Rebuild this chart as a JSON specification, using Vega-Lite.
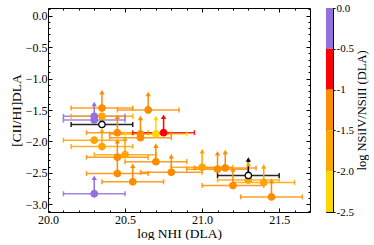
{
  "$schema": "https://vega.github.io/schema/vega-lite/v6.json",
  "padding": {"left": 8, "top": 1, "right": 0, "bottom": 0},
  "spacing": 14,
  "config": {
    "font": "Liberation Serif",
    "view": {"stroke": "black", "strokeWidth": 1},
    "axis": {
      "labelFont": "Liberation Serif", "titleFont": "Liberation Serif",
      "labelFontSize": 12, "titleFontSize": 13.5, "titleFontWeight": "normal",
      "labelColor": "black", "titleColor": "black", "domainColor": "black", "tickColor": "black",
      "grid": false, "labelFlush": false
    }
  },
  "datasets": {
    "pts": [
      {"x": 20.30, "xlo": 20.10, "xhi": 20.50, "y": -2.83, "lim": true, "r": -0.2, "stack": false},
      {"x": 20.30, "xlo": 20.10, "xhi": 20.50, "y": -1.66, "lim": true, "r": -0.2, "stack": false},
      {"x": 20.30, "xlo": 20.10, "xhi": 20.50, "y": -1.60, "lim": false, "r": -0.2, "stack": false},
      {"x": 20.35, "xlo": 20.15, "xhi": 20.55, "y": -1.47, "lim": true, "r": -1.2, "stack": false},
      {"x": 20.35, "xlo": 20.15, "xhi": 20.55, "y": -1.60, "lim": false, "r": -1.7, "stack": false},
      {"x": 20.65, "xlo": 20.45, "xhi": 20.85, "y": -1.50, "lim": true, "r": -1.2, "stack": false},
      {"x": 20.45, "xlo": 20.25, "xhi": 20.65, "y": -1.86, "lim": true, "r": -1.2, "stack": false},
      {"x": 20.60, "xlo": 20.40, "xhi": 20.80, "y": -1.88, "lim": true, "r": -1.2, "stack": false},
      {"x": 20.60, "xlo": 20.40, "xhi": 20.80, "y": -1.94, "lim": false, "r": -1.2, "stack": false},
      {"x": 20.30, "xlo": 20.10, "xhi": 20.50, "y": -1.98, "lim": false, "r": -1.7, "stack": false},
      {"x": 20.35, "xlo": 20.15, "xhi": 20.55, "y": -2.08, "lim": true, "r": -1.7, "stack": false},
      {"x": 20.45, "xlo": 20.25, "xhi": 20.65, "y": -2.25, "lim": true, "r": -1.2, "stack": false},
      {"x": 20.50, "xlo": 20.30, "xhi": 20.70, "y": -2.21, "lim": true, "r": -1.7, "stack": false},
      {"x": 20.70, "xlo": 20.50, "xhi": 20.90, "y": -2.32, "lim": true, "r": -1.2, "stack": false},
      {"x": 20.45, "xlo": 20.25, "xhi": 20.65, "y": -2.51, "lim": true, "r": -1.2, "stack": false},
      {"x": 20.55, "xlo": 20.35, "xhi": 20.75, "y": -2.64, "lim": true, "r": -1.2, "stack": false},
      {"x": 20.80, "xlo": 20.60, "xhi": 21.00, "y": -2.49, "lim": true, "r": -1.2, "stack": false},
      {"x": 21.00, "xlo": 20.80, "xhi": 21.20, "y": -2.41, "lim": true, "r": -1.7, "stack": false},
      {"x": 21.10, "xlo": 20.90, "xhi": 21.30, "y": -2.44, "lim": true, "r": -1.2, "stack": false},
      {"x": 21.15, "xlo": 20.95, "xhi": 21.35, "y": -2.42, "lim": true, "r": -1.2, "stack": false},
      {"x": 21.20, "xlo": 21.00, "xhi": 21.40, "y": -2.70, "lim": true, "r": -1.2, "stack": false},
      {"x": 21.30, "xlo": 21.10, "xhi": 21.50, "y": -2.61, "lim": true, "r": -1.7, "stack": false},
      {"x": 21.40, "xlo": 21.20, "xhi": 21.60, "y": -2.65, "lim": true, "r": -1.7, "stack": false},
      {"x": 21.45, "xlo": 21.25, "xhi": 21.65, "y": -2.88, "lim": true, "r": -1.2, "stack": false},
      {"x": 20.70, "xlo": 20.50, "xhi": 20.90, "y": -1.88, "lim": true, "r": -2.2, "stack": false},
      {"x": 20.75, "xlo": 20.55, "xhi": 20.95, "y": -1.86, "lim": true, "r": -0.7, "stack": false},
      {"x": 20.35, "xlo": 20.15, "xhi": 20.55, "y": -1.73, "lim": false, "r": -1.0, "stack": true},
      {"x": 21.30, "xlo": 21.10, "xhi": 21.50, "y": -2.54, "lim": true, "r": -1.0, "stack": true}
    ],
    "bins": [
      {"lo": -0.5, "hi": 0.0},
      {"lo": -1.0, "hi": -0.5},
      {"lo": -1.5, "hi": -1.0},
      {"lo": -2.0, "hi": -1.5},
      {"lo": -2.5, "hi": -2.0}
    ]
  },
  "hconcat": [
    {
      "width": 262,
      "height": 204,
      "data": {"name": "pts"},
      "resolve": {"axis": {"x": "independent", "y": "independent"}},
      "layer": [
        {
          "mark": {"type": "rule", "strokeWidth": 1.5, "opacity": 0.85},
          "encoding": {
            "x": {"field": "xlo", "type": "quantitative", "scale": {"domain": [20.0, 21.7], "nice": false, "zero": false},
                  "axis": {"orient": "bottom", "values": [20.0, 20.5, 21.0, 21.5], "format": ".1f", "tickSize": -4, "labelPadding": 6, "domain": false, "title": "log NHI (DLA)", "titlePadding": 1}},
            "x2": {"field": "xhi"},
            "y": {"field": "y", "type": "quantitative", "scale": {"domain": [-3.12, 0.12], "nice": false, "zero": false},
                  "axis": {"orient": "left", "values": [0, -0.5, -1, -1.5, -2, -2.5, -3], "format": ".1f", "tickSize": -4, "labelPadding": 5, "domain": false, "title": "[CII/HI]DLA", "titlePadding": 2}},
            "color": {"condition": {"test": "datum.stack", "value": "black"}, "field": "r", "type": "quantitative",
                      "scale": {"type": "threshold", "domain": [-2, -1.5, -1, -0.5], "range": ["#FFD700", "#FFA500", "#FF8C00", "#FF0000", "#9370DB"]}, "legend": null}
          }
        },
        {
          "transform": [{"fold": ["xlo", "xhi"], "as": ["k", "xv"]}],
          "mark": {"type": "rule", "strokeWidth": 1.5, "opacity": 0.85, "yOffset": -2.5, "y2Offset": 2.5},
          "encoding": {
            "x": {"field": "xv", "type": "quantitative", "scale": {"domain": [20.0, 21.7], "nice": false, "zero": false},
                  "axis": {"orient": "bottom", "values": [20.1, 20.2, 20.3, 20.4, 20.6, 20.7, 20.8, 20.9, 21.1, 21.2, 21.3, 21.4, 21.6], "labels": false, "tickSize": -2, "domain": false, "title": null}},
            "y": {"field": "y", "type": "quantitative",
                  "axis": {"orient": "left", "values": [0.1, -0.1, -0.2, -0.3, -0.4, -0.6, -0.7, -0.8, -0.9, -1.1, -1.2, -1.3, -1.4, -1.6, -1.7, -1.8, -1.9, -2.1, -2.2, -2.3, -2.4, -2.6, -2.7, -2.8, -2.9, -3.1], "labels": false, "tickSize": -2, "domain": false, "title": null}},
            "y2": {"field": "y"},
            "color": {"condition": {"test": "datum.stack", "value": "black"}, "field": "r", "type": "quantitative",
                      "scale": {"type": "threshold", "domain": [-2, -1.5, -1, -0.5], "range": ["#FFD700", "#FFA500", "#FF8C00", "#FF0000", "#9370DB"]}, "legend": null}
          }
        },
        {
          "transform": [{"filter": "datum.lim"}],
          "mark": {"type": "rule", "strokeWidth": 1.5, "y2Offset": -15},
          "encoding": {
            "x": {"field": "x", "type": "quantitative",
                  "axis": {"orient": "top", "values": [20.0, 20.5, 21.0, 21.5], "labels": false, "tickSize": -4, "domain": false, "title": null}},
            "y": {"field": "y", "type": "quantitative",
                  "axis": {"orient": "right", "values": [0, -0.5, -1, -1.5, -2, -2.5, -3], "labels": false, "tickSize": -4, "domain": false, "title": null}},
            "y2": {"field": "y"},
            "color": {"condition": {"test": "datum.stack", "value": "black"}, "field": "r", "type": "quantitative",
                      "scale": {"type": "threshold", "domain": [-2, -1.5, -1, -0.5], "range": ["#FFD700", "#FFA500", "#FF8C00", "#FF0000", "#9370DB"]}, "legend": null}
          }
        },
        {
          "transform": [{"filter": "datum.lim"}],
          "mark": {"type": "point", "shape": "triangle-up", "filled": true, "opacity": 1, "size": 28, "yOffset": -16},
          "encoding": {
            "x": {"field": "x", "type": "quantitative",
                  "axis": {"orient": "top", "values": [20.1, 20.2, 20.3, 20.4, 20.6, 20.7, 20.8, 20.9, 21.1, 21.2, 21.3, 21.4, 21.6], "labels": false, "tickSize": -2, "domain": false, "title": null}},
            "y": {"field": "y", "type": "quantitative",
                  "axis": {"orient": "right", "values": [0.1, -0.1, -0.2, -0.3, -0.4, -0.6, -0.7, -0.8, -0.9, -1.1, -1.2, -1.3, -1.4, -1.6, -1.7, -1.8, -1.9, -2.1, -2.2, -2.3, -2.4, -2.6, -2.7, -2.8, -2.9, -3.1], "labels": false, "tickSize": -2, "domain": false, "title": null}},
            "color": {"condition": {"test": "datum.stack", "value": "black"}, "field": "r", "type": "quantitative",
                      "scale": {"type": "threshold", "domain": [-2, -1.5, -1, -0.5], "range": ["#FFD700", "#FFA500", "#FF8C00", "#FF0000", "#9370DB"]}, "legend": null}
          }
        },
        {
          "mark": {"type": "point", "filled": true, "opacity": 1, "size": 42, "strokeWidth": 1.3},
          "encoding": {
            "x": {"field": "x", "type": "quantitative", "axis": null},
            "y": {"field": "y", "type": "quantitative", "axis": null},
            "fill": {"condition": {"test": "datum.stack", "value": "white"}, "field": "r", "type": "quantitative",
                     "scale": {"type": "threshold", "domain": [-2, -1.5, -1, -0.5], "range": ["#FFD700", "#FFA500", "#FF8C00", "#FF0000", "#9370DB"]}, "legend": null},
            "stroke": {"condition": {"test": "datum.stack", "value": "black"}, "field": "r", "type": "quantitative",
                       "scale": {"type": "threshold", "domain": [-2, -1.5, -1, -0.5], "range": ["#FFD700", "#FFA500", "#FF8C00", "#FF0000", "#9370DB"]}, "legend": null}
          }
        }
      ]
    },
    {
      "width": 7,
      "height": 204,
      "data": {"name": "bins"},
      "mark": {"type": "rect"},
      "encoding": {
        "x": {"value": 0},
        "x2": {"value": "width"},
        "y": {"field": "lo", "type": "quantitative", "scale": {"domain": [-2.5, 0], "nice": false, "zero": false},
              "axis": {"orient": "right", "values": [0, -0.5, -1, -1.5, -2, -2.5], "tickSize": 2, "labelPadding": 1, "labelFontSize": 11, "domain": false,
                       "labelExpr": "datum.value == 0 ? '0.0' : datum.value == -0.5 ? '-0.5' : datum.value == -1 ? '-1' : datum.value == -1.5 ? '-1.5' : datum.value == -2 ? '-2.0' : '-2.5'",
                       "title": "log NSiIV/NSiII (DLA)", "titleFontSize": 12.5, "titleAngle": 270, "titleBaseline": "top", "titlePadding": 2}},
        "y2": {"field": "hi"},
        "color": {"field": "lo", "type": "quantitative",
                  "scale": {"type": "threshold", "domain": [-2, -1.5, -1, -0.5], "range": ["#FFD700", "#FFA500", "#FF8C00", "#FF0000", "#9370DB"]}, "legend": null}
      }
    }
  ]
}
